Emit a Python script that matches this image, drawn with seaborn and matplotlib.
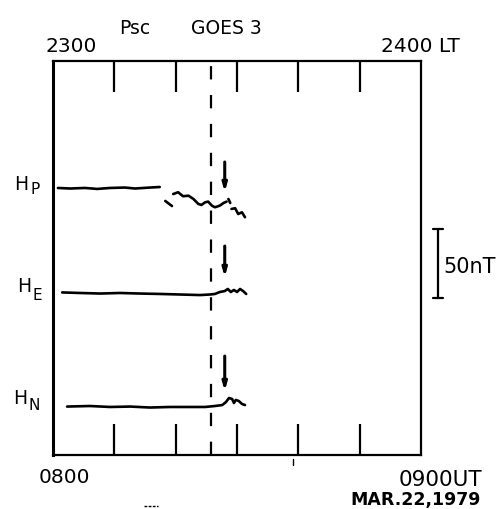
import numpy as np
import pandas as pd
import matplotlib
matplotlib.use("Agg")
import matplotlib.pyplot as plt
from matplotlib.lines import Line2D
import seaborn as sns

# ---- data (time in minutes after 0800 UT, field in nT on plot scale) ----
hp_seg1_t = [0.8, 2.8, 5.2, 7.2, 9.3, 11.7, 13.4, 15.8, 17.4]
hp_seg1_v = [193.5, 193.1, 193.5, 192.8, 193.5, 193.8, 193.1, 193.8, 194.2]
hp_seg2_t = [18.3, 19.4]
hp_seg2_v = [184.1, 180.4]
hp_seg3_t = [19.6, 20.4, 21.2, 22.1, 22.9, 23.7, 24.2, 24.8, 25.3, 25.9, 26.4, 27.2, 27.8, 28.3]
hp_seg3_v = [189.1, 190.4, 187.5, 187.9, 185.5, 181.9, 181.2, 183.1, 183.6, 180.7, 179.5, 180.7, 182.6, 183.6]
hp_seg4_t = [28.6, 28.9]
hp_seg4_v = [185.5, 182.6]
hp_seg5_t = [29.1, 29.7, 30.2, 30.8, 31.3]
hp_seg5_v = [178.3, 178.8, 174.6, 175.9, 172.3]

he_t = [1.5, 4.4, 7.7, 10.9, 14.2, 17.4, 20.7, 24.0, 25.6, 26.4, 27.2, 28.0, 28.5, 29.0, 29.5, 30.0, 30.5, 31.0, 31.5]
he_v = [117.8, 117.4, 117.0, 117.4, 117.0, 116.7, 116.3, 115.9, 116.3, 116.7, 118.1, 118.8, 120.3, 118.1, 119.6, 118.1, 120.3, 118.8, 116.7]

hn_t = [2.3, 6.0, 9.3, 12.6, 15.8, 19.1, 22.3, 24.8, 26.4, 27.6, 28.2, 28.7, 29.2, 29.5, 29.8, 30.3, 30.8, 31.3]
hn_v = [35.1, 35.5, 34.8, 35.1, 34.4, 34.8, 34.8, 34.8, 35.5, 36.2, 38.4, 41.3, 40.6, 37.7, 39.9, 39.1, 37.0, 36.2]

psc_time = 25.8           # GOES 3 sudden commencement (dashed line)
onset_time = 28.0         # arrows
arrow_top = [212.3, 151.4, 71.7]
arrow_bottom = [190.6, 129.0, 46.4]
scale_nT = [113.8, 163.8]  # 50 nT scale bar
inner_ticks = [10, 20, 30, 40, 50]

segments = []
for name, (t, v) in {
    "hp1": (hp_seg1_t, hp_seg1_v), "hp2": (hp_seg2_t, hp_seg2_v),
    "hp3": (hp_seg3_t, hp_seg3_v), "hp4": (hp_seg4_t, hp_seg4_v),
    "hp5": (hp_seg5_t, hp_seg5_v), "he": (he_t, he_v), "hn": (hn_t, hn_v),
}.items():
    segments.append(pd.DataFrame({"minute": t, "nT": v, "segment": name}))
df = pd.concat(segments, ignore_index=True)

sns.set_style("white")
plt.rcParams["font.family"] = ["DejaVu Sans"]

W, H = 497, 510
fig = plt.figure(figsize=(W / 100, H / 100), dpi=100)
ax = fig.add_axes([53 / W, 1 - 456 / H, 368 / W, 394 / H])

sns.lineplot(data=df, x="minute", y="nT", units="segment", estimator=None,
             sort=False, color="black", lw=1.9, ax=ax, legend=False)

ax.set_xlim(0, 60)
ax.set_ylim(0, 285.5)
ax.set_xlabel("")
ax.set_ylabel("")
ax.set_yticks([])
ax.set_xticks(inner_ticks)
ax.tick_params(axis="x", which="both", direction="in", length=22.5, width=1.6,
               top=True, bottom=True, labelbottom=False, labeltop=False, color="black")
for side, s in ax.spines.items():
    s.set_color("black")
    s.set_linewidth(1.6)
ax.spines["left"].set_linewidth(2.2)

ax.axvline(psc_time, color="black", lw=1.6, dashes=(6, 7))

for top, bot in zip(arrow_top, arrow_bottom):
    ax.annotate("", xy=(onset_time, bot), xytext=(onset_time, top),
                arrowprops=dict(arrowstyle="-|>,head_width=0.13,head_length=0.45",
                                lw=2.2, color="black", shrinkA=0, shrinkB=0))

# 50 nT scale bar
xb = 62.8
ax.plot([xb, xb], scale_nT, color="black", lw=1.6, clip_on=False)
for yv in scale_nT:
    ax.plot([xb - 0.8, xb + 0.8], [yv, yv], color="black", lw=1.6, clip_on=False)


def ft(x, y, s, size, ha="center", weight="normal"):
    fig.text(x / W, 1 - y / H, s, fontsize=size, ha=ha, va="center",
             weight=weight, color="black")


ft(135, 28, "Psc", 13.5)
ft(226, 28, "GOES 3", 13.5)
ft(71, 46, "2300", 14.5)
ft(420, 46, "2400 LT", 14.5)
ft(64, 478, "0800", 14.5)
ft(440, 480, "0900UT", 15.5)
ft(416, 500, "MAR.22,1979", 12.5, weight="bold")
ft(443, 267, "50nT", 15, ha="left")

# component labels
ft(21.5, 185, "H", 13.5)
ft(35.5, 190, "P", 11)
ft(24.5, 286.5, "H", 13.5)
ft(37, 295, "E", 11)
ft(20, 398.5, "H", 13.5)
ft(34.5, 405.5, "N", 11)

# small marks below the frame
fig.add_artist(Line2D([293 / W, 293 / W], [1 - 460 / H, 1 - 466 / H],
                      transform=fig.transFigure, color="black", lw=1))
fig.add_artist(Line2D([144 / W, 158 / W], [1 - 507 / H, 1 - 507 / H],
                      transform=fig.transFigure, color="black", lw=1, dashes=(2, 1)))

fig.savefig("out.png", dpi=100)
